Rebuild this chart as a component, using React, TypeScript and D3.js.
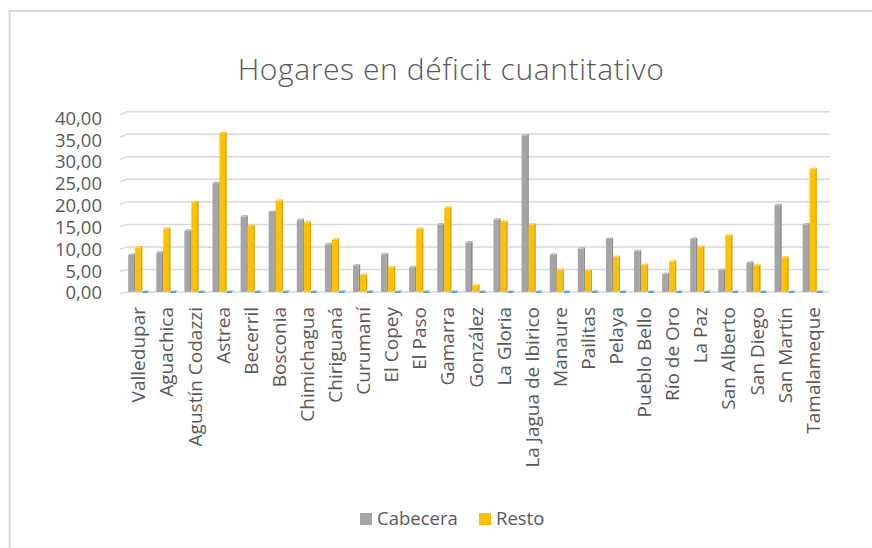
import React from "react";
import * as d3 from "d3";

const categories = [
  "Valledupar", "Aguachica", "Agustín Codazzi", "Astrea", "Becerril", "Bosconia",
  "Chimichagua", "Chiriguaná", "Curumaní", "El Copey", "El Paso", "Gamarra",
  "González", "La Gloria", "La Jagua de Ibirico", "Manaure", "Pailitas", "Pelaya",
  "Pueblo Bello", "Río de Oro", "La Paz", "San Alberto", "San Diego", "San Martín",
  "Tamalameque",
];
const cabecera = [8.6, 9.1, 13.9, 24.5, 17.1, 18.1, 16.3, 10.9, 6.2, 8.7, 5.8, 15.3, 11.3, 16.4, 35.1, 8.6, 10.0, 12.1, 9.4, 4.3, 12.1, 5.2, 6.8, 19.6, 15.3];
const resto = [10.2, 14.4, 20.3, 35.6, 15.0, 20.6, 15.8, 12.0, 4.1, 5.8, 14.3, 19.0, 1.7, 15.9, 15.3, 5.2, 5.0, 8.1, 6.3, 7.1, 10.3, 12.8, 6.2, 8.0, 27.6];
const tercera = [0, 0, 0, 0, 0, 0, 0, 0, 0, 0, 0, 0, 0, 0, 0, 0, 0, 0, 0, 0, 0, 0, 0, 0, 0];
const yTicks = [0, 5, 10, 15, 20, 25, 30, 35, 40];
const title = "Hogares en déficit cuantitativo";
const legendItems = ["Cabecera", "Resto"];

const W = 872;
const H = 548;
const FONT = "'Open Sans', 'Noto Sans', sans-serif";

const series = [
  { values: cabecera, front: "#a5a5a5", side: "#8a8a8a", top: "#bdbdbd" },
  { values: resto, front: "#ffc000", side: "#d9a300", top: "#ffd24d" },
  { values: tercera, front: "#5b9bd5", side: "#41719c", top: "#7fb1e0" },
];

export default function App() {
  const x = d3.scaleBand<string>().domain(categories).range([123, 825.5]).padding(0);
  const y = d3.scaleLinear().domain([0, 40]).range([292, 111.7]);
  const yFront = d3.scaleLinear().domain([0, 40]).range([293.5, 115]);
  const yLab = d3.scaleLinear().domain([0, 40]).range([293, 118.3]);
  const fmt = (v: number) => d3.format(".2f")(v).replace(".", ",");
  const fw = 5.6;
  const bw = 7;
  const dd = 1.6;
  const off = 5.2;

  return (
    <svg width={W} height={H} style={{ position: "absolute", left: 0, top: 0, background: "#fff" }} fontFamily={FONT}>
      <rect x={9.5} y={11} width={W + 20} height={H + 20} fill="#fff" stroke="#d9d9d9" strokeWidth={2} />
      <text x={451} y={79.5} textAnchor="middle" fontSize={30} fontWeight={300} letterSpacing={0.6} fill="#595959">{title}</text>

      {yTicks.map((t) => (
        <g key={t}>
          <line x1={x.range()[0] - 3} x2={x.range()[0] + 4} y1={yFront(t)} y2={y(t)} stroke="#d9d9d9" strokeWidth={1.5} />
          <line x1={x.range()[0] + 4} x2={830} y1={y(t)} y2={y(t)} stroke="#d9d9d9" strokeWidth={1.5} />
          <text x={102} y={yLab(t)} dy="0.35em" textAnchor="end" fontSize={18.5} fill="#595959">{fmt(t)}</text>
        </g>
      ))}

      {categories.map((c, i) => {
        const bx0 = (x(c) as number) + off;
        return (
          <g key={c}>
            {series.map((s, k) => {
              const v = s.values[i];
              const bx = bx0 + k * bw;
              const yt = y(v) + dd;
              const y0 = y(0);
              if (v <= 0) {
                return (
                  <g key={k}>
                    <polygon points={`${bx},${y0} ${bx + dd},${y0 - dd} ${bx + fw + dd},${y0 - dd} ${bx + fw},${y0}`} fill={s.top} />
                    <rect x={bx} y={y0 - 0.5} width={fw} height={1.5} fill={s.front} />
                  </g>
                );
              }
              return (
                <g key={k}>
                  <rect x={bx} y={yt} width={fw} height={y0 - yt} fill={s.front} />
                  <polygon points={`${bx + fw},${yt} ${bx + fw + dd},${yt - dd} ${bx + fw + dd},${y0 - dd} ${bx + fw},${y0}`} fill={s.side} />
                  <polygon points={`${bx},${yt} ${bx + dd},${yt - dd} ${bx + fw + dd},${yt - dd} ${bx + fw},${yt}`} fill={s.top} />
                </g>
              );
            })}
            <text
              transform={`translate(${bx0 + 10.5},307) rotate(-90)`}
              dy="0.35em"
              textAnchor="end"
              fontSize={19}
              fill="#595959"
            >
              {c}
            </text>
          </g>
        );
      })}

      <g>
        <rect x={360} y={513} width={12} height={12} fill="#a5a5a5" />
        <text x={377} y={519} dy="0.35em" fontSize={18.5} fill="#595959">{legendItems[0]}</text>
        <rect x={479} y={513} width={12} height={12} fill="#ffc000" />
        <text x={496} y={519} dy="0.35em" fontSize={18.5} fill="#595959">{legendItems[1]}</text>
      </g>
    </svg>
  );
}
